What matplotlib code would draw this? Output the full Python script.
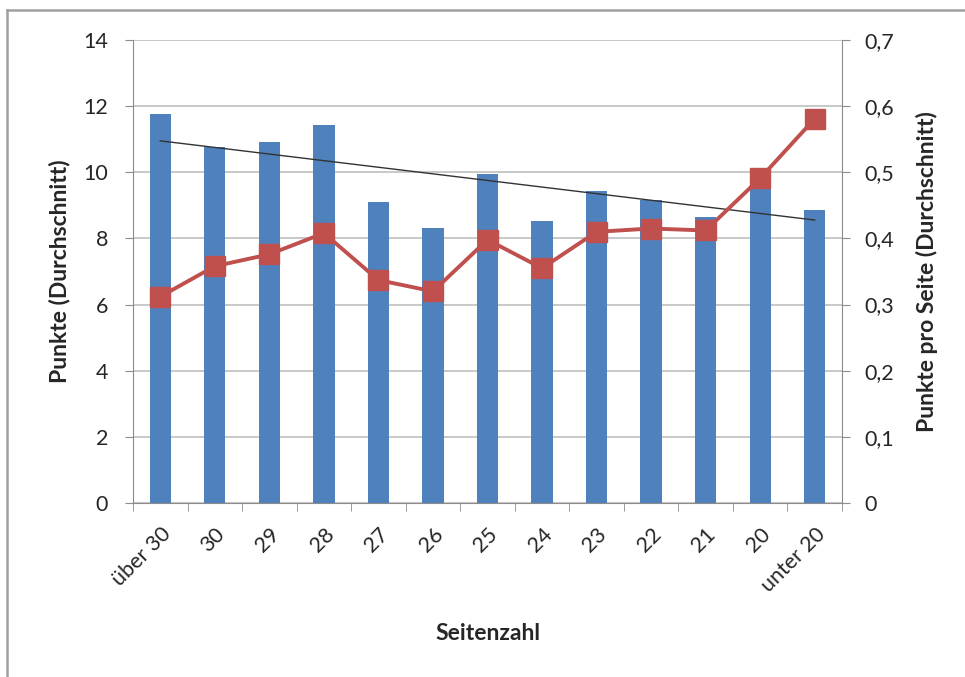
import numpy as np
import matplotlib
matplotlib.use("Agg")
import matplotlib.pyplot as plt
from matplotlib.lines import Line2D
from matplotlib.ticker import FuncFormatter

plt.rcParams['font.family'] = ['Lato', 'DejaVu Sans']

# Seitenzahl-Kategorien
categories = ["über 30", "30", "29", "28", "27", "26", "25", "24", "23", "22", "21", "20", "unter 20"]
# Punkte (Durchschnitt) je Kategorie
punkte = [11.75, 10.77, 10.91, 11.42, 9.09, 8.32, 9.94, 8.53, 9.43, 9.16, 8.66, 9.95, 8.86]
# Punkte pro Seite (Durchschnitt)
punkte_pro_seite = [0.312, 0.358, 0.376, 0.408, 0.337, 0.320, 0.398, 0.355, 0.410, 0.415, 0.412, 0.491, 0.581]

left_ticks = [0, 2, 4, 6, 8, 10, 12, 14]
right_ticks = [0, 0.1, 0.2, 0.3, 0.4, 0.5, 0.6, 0.7]

BAR = "#4F81BD"
LINE = "#C0504D"
GRID = "#BFBFBF"
AXIS = "#8C8C8C"
TXT = "#262626"
TICK_FS = 15.5
LABEL_FS = 16.5

fig = plt.figure(figsize=(9.65, 6.77), dpi=100)
ax = fig.add_axes([133 / 965, 1 - 503 / 677, (842 - 133) / 965, (503 - 40) / 677])

x = np.arange(len(categories))
ax.bar(x, punkte, width=0.39, color=BAR, zorder=2)

# linearer Trend der Punkte
coef = np.polyfit(x, punkte, 1)
ax.plot([x[0], x[-1]], np.polyval(coef, [x[0], x[-1]]), color="#333333", lw=1.0, zorder=3)

ax.set_xlim(-0.5, len(categories) - 0.5)
ax.set_ylim(0, 14)
ax.set_yticks(left_ticks)
ax.yaxis.grid(True, color=GRID, lw=1.2, zorder=0)
ax.set_axisbelow(True)

ax2 = ax.twinx()
ax2.plot(x, punkte_pro_seite, color=LINE, lw=2.8, marker="s", markersize=14,
         markerfacecolor=LINE, markeredgecolor=LINE, zorder=4)
ax2.set_ylim(0, 0.7)
ax2.set_yticks(right_ticks)

fmt = FuncFormatter(lambda v, p: "0" if v == 0 else f"{v:.1f}".replace(".", ","))
ax2.yaxis.set_major_formatter(fmt)

for a in (ax, ax2):
    for s in a.spines.values():
        s.set_visible(False)

ax.spines['left'].set_visible(True)
ax.spines['left'].set_color(AXIS)
ax.spines['bottom'].set_visible(True)
ax.spines['bottom'].set_color(AXIS)
ax2.spines['right'].set_visible(True)
ax2.spines['right'].set_color(AXIS)

ax.set_xticks(x)
ax.set_xticklabels(categories, rotation=45, ha="right", rotation_mode="anchor",
                   fontsize=TICK_FS, color=TXT)
ax.set_xticks(np.arange(-0.5, len(categories)), minor=True)
ax.tick_params(axis="x", which="major", length=0, pad=15)
ax.tick_params(axis="x", which="minor", length=6, color=AXIS)
ax.tick_params(axis="y", length=6, color=AXIS, pad=12, labelsize=TICK_FS, labelcolor=TXT)
ax2.tick_params(axis="y", length=6, color=AXIS, pad=10, labelsize=TICK_FS, labelcolor=TXT)

ax.set_ylabel("Punkte (Durchschnitt)", fontsize=LABEL_FS, fontweight="bold", color=TXT, labelpad=9)
ax2.set_ylabel("Punkte pro Seite (Durchschnitt)", fontsize=LABEL_FS, fontweight="bold", color=TXT, labelpad=16)
ax.set_xlabel("Seitenzahl", fontsize=LABEL_FS, fontweight="bold", color=TXT, labelpad=20)

# Rahmen oben und links
fig.add_artist(Line2D([7 / 965, 1], [1 - 10 / 677, 1 - 10 / 677], color="#A0A0A0", lw=1.8))
fig.add_artist(Line2D([7 / 965, 7 / 965], [0, 1 - 10 / 677], color="#A0A0A0", lw=1.8))

fig.savefig("out.png", dpi=100)
